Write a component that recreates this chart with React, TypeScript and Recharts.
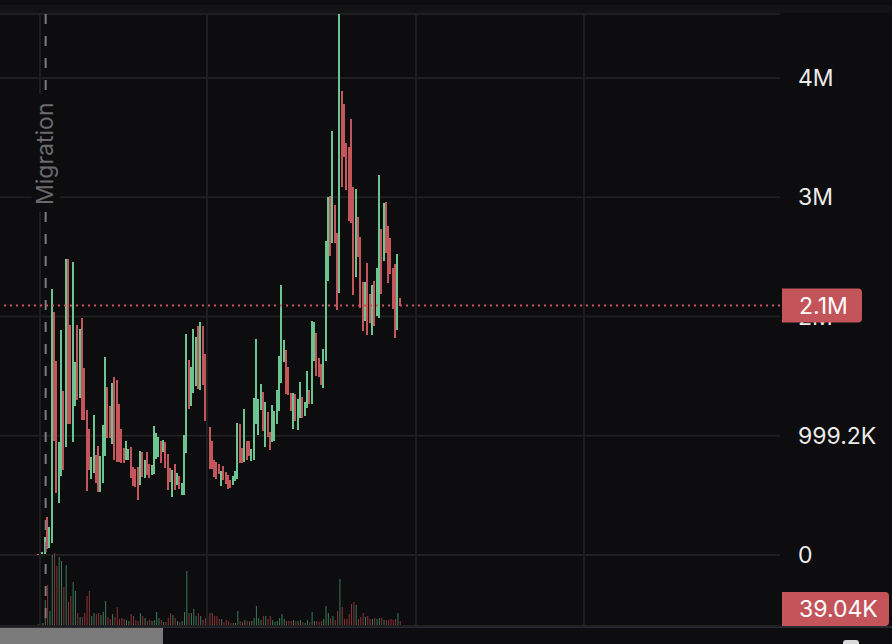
import React from 'react';
import { ComposedChart, Bar, XAxis, YAxis, CartesianGrid, ReferenceLine, Cell } from 'recharts';

// ---- data (prices and volumes in thousands) ----
const opens = [10,5,8,20,300,75,220,1900,1500,700,800,1300,1000,2400,1850,1150,1300,1850,1350,1900,1500,1180,1000,660,750,820,880,560,650,900,1380,1220,960,1450,1420,1230,1030,880,800,800,890,720,700,700,600,850,660,850,750,680,700,820,830,940,870,930,830,720,500,750,595,650,510,520,950,1600,1260,1380,1430,1890,1400,1900,1660,1230,1050,940,780,770,755,590,735,690,660,620,595,630,650,1080,890,790,940,945,795,810,1110,1020,1225,1350,920,1190,1020,960,970,1110,1220,1450,1630,1700,1560,1350,1070,1340,1060,1160,1315,1170,1240,1375,1280,1640,1850,1640,1590,1410,1700,2310,2990,2630,2920,2680,2210,3870,3770,3440,3410,3640,3070,2340,2820,2650,2280,1970,2440,2180,1850,2290,2010,2000,2720,2470,2950,2745,2650,2395,2430,1890,2150];
const highs = [12,17,25,151,318,235,2229,2036,1626,947,1885,1374,2480,2480,1927,2455,1617,1927,1894,1986,1567,1215,1056,821,1173,838,913,830,1089,1659,1408,1248,1441,1491,1466,1265,1056,897,955,888,905,737,721,737,871,863,796,863,762,754,1081,1022,989,955,964,947,846,729,712,762,687,662,603,1005,1852,1634,1575,1894,1827,1919,1952,1919,1684,1248,1073,955,796,779,762,704,746,695,670,628,662,704,1106,1098,897,1223,955,955,888,1316,1810,1307,1433,1366,1282,1198,1031,1257,1207,1383,1667,2262,1801,1718,1575,1357,1357,1349,1307,1450,1324,1282,1542,1383,1961,1952,1860,1651,1600,1726,2631,3000,3008,3553,2933,2698,4533,3888,3779,3452,3419,3653,3083,3067,2832,2665,2287,2287,2447,2187,2262,2296,2405,3184,2732,2949,2958,2757,2656,2405,2438,2522,2153];
const lows = [2,3,5,8,50,59,101,955,520,436,662,712,905,1098,1098,947,1248,1299,1316,1131,1131,536,712,637,687,603,528,528,603,830,980,980,930,796,779,779,771,771,796,796,645,578,570,461,587,654,645,670,645,670,679,804,821,771,863,729,545,612,486,545,587,553,503,503,855,1223,1248,1357,1416,1391,1383,1424,1123,880,721,721,654,637,679,578,628,595,553,561,587,620,637,771,771,779,796,830,788,796,1098,1005,1215,1039,905,989,880,947,955,1098,1207,1441,1617,1349,1341,1207,1056,1123,1047,1148,1148,1165,1232,1265,1265,1626,1500,1491,1424,1399,1626,2296,2505,2614,2614,2053,2195,3083,3335,3058,2799,2782,2179,2329,2497,2070,1877,1961,1843,1944,1843,1919,2003,1986,2187,2463,2531,2279,2355,2061,1818,1885,2086];
const closes = [4,15,22,140,70,220,1500,1100,700,900,1700,800,2400,1200,1150,2350,1580,1350,1850,1200,1180,650,750,800,1100,620,560,800,1050,1600,1000,1000,1400,850,820,800,790,780,940,880,660,590,580,480,860,670,780,690,660,745,1050,1010,980,780,955,740,560,620,700,560,680,560,595,990,1800,1250,1560,1870,1800,1410,1930,1440,1140,900,740,735,665,645,685,695,635,600,560,565,655,695,1090,780,780,1210,800,835,880,1300,1790,1290,1420,1050,1270,1000,890,1240,1195,1370,1650,1720,1790,1360,1350,1215,1345,1130,1295,1440,1155,1275,1530,1270,1940,1940,1510,1500,1430,1715,2600,2980,2515,3540,2620,2060,3850,3100,3340,3065,2810,2790,2190,3055,2505,2080,1885,2280,1850,1950,2255,1925,2395,3170,2195,2940,2540,2285,2360,2070,1825,2515,2090];
const volumes = [10,20,20,250,400,140,700,720,590,680,640,380,600,230,290,430,340,120,80,80,120,290,340,90,120,110,120,100,130,240,80,60,110,80,180,60,70,60,50,40,110,90,50,40,120,90,70,40,50,40,50,130,70,50,30,30,70,120,100,70,40,30,40,130,540,120,120,160,90,120,90,50,70,90,120,120,90,90,60,60,30,50,40,20,20,20,140,40,30,50,40,40,40,70,190,70,50,90,90,60,90,50,30,40,70,110,60,40,40,40,50,40,40,50,30,20,50,30,130,40,40,30,40,60,190,120,70,90,50,140,460,180,60,60,110,210,230,200,60,80,120,80,90,60,60,70,60,70,70,50,50,50,60,50,60,120,40];

const priceTicks = [0, 999.2, 1998.4, 2997.6, 3996.8];
const priceTickLabels = ['0', '999.2K', '2M', '3M', '4M'];
const timeGridTicks = [0.86, 72.84, 162.93, 235.34];
const migrationIndex = 3.3;
const migrationText = 'Migration';
const lastPrice = 2090;
const lastPriceLabel = '2.1M';
const lastVolume = 39.04;
const lastVolumeLabel = '39.04K';

// ---- axis ranges ----
const priceDomain = [-594.9, 4533.0];
const volDomain = [-10, 6110];
const xDomain = [-16.38, 319.83];

// ---- style ----
const BG = '#0d0d0f';
const GRID = '#1f1f22';
const GREEN = '#6cc490';
const RED = '#c3565b';
const VOL_GREEN = '#3a7a57';
const VOL_RED = '#8a343a';
const TAG = '#c3555a';
const FONT = 'Inter, "Noto Sans", sans-serif';
const W = 892;
const H = 644;
const PLOT_TOP = 14;
const PLOT_BOTTOM = 626;
const MARGIN = { top: PLOT_TOP, right: 0, bottom: H - PLOT_BOTTOM, left: 0 };

const data = opens.map((o, i) => ({
  i,
  o,
  h: highs[i],
  l: lows[i],
  c: closes[i],
  range: [lows[i], highs[i]],
  v: volumes[i],
}));

const CandleShape = (props: any) => {
  const { x, y, width, height, payload } = props;
  if (x == null || y == null || !payload) return null;
  const { o, h, l, c } = payload;
  const color = c >= o ? GREEN : RED;
  const top = Math.min(y, y + height);
  const hgt = Math.max(Math.abs(height), 1);
  const ratio = Math.abs(height) / Math.max(h - l, 1e-9);
  const bTop = top + (h - Math.max(o, c)) * ratio;
  const bH = Math.max(Math.abs(o - c) * ratio, 1);
  return (
    <g shapeRendering="crispEdges">
      <rect x={x} y={top} width={width} height={hgt} fill={color} />
      <rect x={x} y={bTop} width={width} height={bH} fill={color} />
    </g>
  );
};

const tagPath = (x: number, y: number, w: number, h: number, r: number) =>
  `M${x},${y} H${x + w - r} A${r},${r} 0 0 1 ${x + w},${y + r} V${y + h - r} A${r},${r} 0 0 1 ${x + w - r},${y + h} H${x} Z`;

const makeTag = (text: string, width: number, clampBottom?: number) => (props: any) => {
  const vb = props.viewBox || {};
  const x = (vb.x || 0) + (vb.width || 0) + 2;
  let top = (vb.y || 0) - 17;
  if (clampBottom != null) top = Math.min(top, clampBottom - 34);
  return (
    <g>
      <path d={tagPath(x, top, width, 34, 4)} fill={TAG} />
      <text x={x + 17} y={top + 17} dy="0.36em" fill="#ffffff" fontSize={23} fontFamily={FONT}>
        {text}
      </text>
    </g>
  );
};

const MigrationLabel = (props: any) => {
  const vb = props.viewBox || {};
  const x = vb.x || 0;
  const baseY = 205;
  return (
    <g>
      <rect x={x - 14} y={94} width={28} height={118} fill={BG} />
      <text
        x={x}
        y={baseY + 7}
        transform={`rotate(-90 ${x} ${baseY})`}
        fill="#6a6a6d"
        fontSize={23}
        fontFamily={FONT}
      >
        {migrationText}
      </text>
    </g>
  );
};

const Axes = ({ showTicks }: { showTicks: boolean }) => null;

export default function App() {
  return (
    <div style={{ position: 'fixed', left: 0, top: 0, width: W, height: H, background: BG, overflow: 'hidden' }}>
      <div style={{ position: 'absolute', left: 0, top: 5, width: W, height: 8, background: '#131316' }} />
      <div style={{ position: 'absolute', left: 0, top: 626, width: W, height: 2, background: '#2a2a35' }} />
      <div style={{ position: 'absolute', left: 0, top: 628, width: 163, height: 16, background: '#7a7a7a' }} />
      <div style={{ position: 'absolute', left: 843, top: 640, width: 16, height: 10, background: '#d8d8d8', borderRadius: 3 }} />
      {/* main chart: grid, candles, volume, axis labels */}
      <div style={{ position: 'absolute', left: 0, top: 0 }}>
        <ComposedChart width={W} height={H} data={data} margin={MARGIN}>
          <XAxis xAxisId="x" type="number" dataKey="i" domain={xDomain} allowDataOverflow hide />
          <XAxis xAxisId="xv" type="number" dataKey="i" domain={xDomain} allowDataOverflow hide />
          <YAxis
            yAxisId="price"
            orientation="right"
            width={112}
            domain={priceDomain}
            allowDataOverflow
            ticks={priceTicks}
            interval={0}
            tickFormatter={(v: number) => priceTickLabels[priceTicks.indexOf(v)] ?? ''}
            axisLine={false}
            tickLine={false}
            tickSize={6}
            tickMargin={12}
            tick={{ fill: '#ebebeb', fontSize: 23, fontFamily: FONT }}
          />
          <YAxis yAxisId="vol" hide domain={volDomain} allowDataOverflow />
          <CartesianGrid xAxisId="x" yAxisId="price" vertical={false} stroke={GRID} strokeWidth={2} />
          {timeGridTicks.map((t) => (
            <ReferenceLine key={t} xAxisId="x" yAxisId="price" x={t} stroke={GRID} strokeWidth={2} />
          ))}
          <ReferenceLine
            xAxisId="x"
            yAxisId="price"
            x={migrationIndex}
            stroke="#7c7c7f"
            strokeWidth={2}
            strokeDasharray="10 12"
            strokeDashoffset={14}
            label={MigrationLabel}
          />
          <Bar xAxisId="xv" yAxisId="vol" dataKey="v" barSize={1} isAnimationActive={false}>
            {data.map((d, idx) => (
              <Cell key={idx} fill={d.c >= d.o ? VOL_GREEN : VOL_RED} />
            ))}
          </Bar>
          <Bar
            xAxisId="x"
            yAxisId="price"
            dataKey="range"
            barSize={2}
            shape={CandleShape}
            isAnimationActive={false}
          />
          <ReferenceLine
            xAxisId="x"
            yAxisId="price"
            y={lastPrice}
            stroke={TAG}
            strokeWidth={2}
            strokeDasharray="2 4"
          />
        </ComposedChart>
      </div>
      {/* overlay chart: last price / last volume tags drawn above the axis labels */}
      <div style={{ position: 'absolute', left: 0, top: 0, pointerEvents: 'none' }}>
        <ComposedChart width={W} height={H} data={data} margin={MARGIN}>
          <XAxis xAxisId="x" type="number" dataKey="i" domain={xDomain} allowDataOverflow hide />
          <YAxis
            yAxisId="price"
            orientation="right"
            width={112}
            domain={priceDomain}
            allowDataOverflow
            tick={false}
            axisLine={false}
            tickLine={false}
          />
          <YAxis yAxisId="vol" hide domain={volDomain} allowDataOverflow />
          <ReferenceLine
            xAxisId="x"
            yAxisId="price"
            y={lastPrice}
            stroke="none"
            label={makeTag(lastPriceLabel, 80)}
          />
          <ReferenceLine
            xAxisId="x"
            yAxisId="vol"
            y={lastVolume}
            stroke="none"
            label={makeTag(lastVolumeLabel, 107, PLOT_BOTTOM)}
          />
        </ComposedChart>
      </div>
    </div>
  );
}
